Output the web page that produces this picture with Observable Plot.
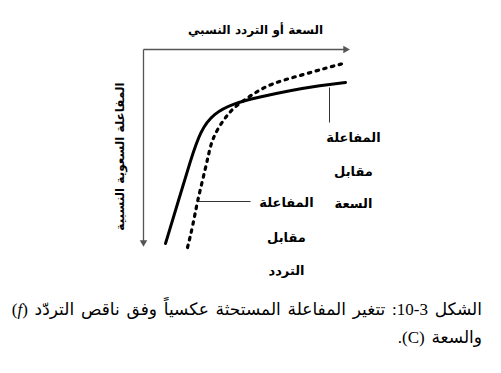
<!DOCTYPE html>
<html lang="ar">
<head>
<meta charset="utf-8">
<script src="https://cdn.jsdelivr.net/npm/d3@7"></script>
<script src="https://cdn.jsdelivr.net/npm/@observablehq/plot@0.6"></script>
<style>
  html, body { margin: 0; padding: 0; background: #fff; }
  #chart { width: 501px; }
  #caption {
    direction: rtl; text-align: right;
    font-family: "Liberation Serif", "DejaVu Sans", serif;
    font-size: 17px; line-height: 28px; word-spacing: 2.5px;
    padding-right: 19px; margin-top: 6px; color: #000;
  }
</style>
</head>
<body>
<div id="chart"></div>
<div id="caption"></div>
<script>
// Curve readings (x: relative capacitance/frequency, y: relative reactance, measured downward)
const solidX  = [22, 35, 47, 57, 70, 90, 114, 147, 177, 202];
const solidY  = [194, 151, 111, 81, 64, 54, 48, 41, 36, 33];
const dottedX = [44, 49, 54, 62, 67, 70, 75, 82, 89, 107, 127, 157, 184, 200];
const dottedY = [198, 178, 151, 119, 96, 88, 78, 68, 59, 46, 34, 26, 18, 14];

// Axis ends
const axisXEnd = 205;
const axisYEnd = 196;

// Annotation texts
const xTitle = "السعة أو التردد النسبي";
const yTitle = "المفاعلة السعوية النسبية";
const capLabelLines = ["المفاعلة", "مقابل", "السعة"];
const freqLabelLines = ["المفاعلة", "مقابل", "التردد"];
const capLabelX = 210, capLabelY = [88, 122, 154];
const freqLabelX = 143, freqLabelY = [153, 188, 221];
const capPointer = {x1: 186, y1: 38, x2: 186, y2: 73};
const freqPointer = {x1: 55, y1: 152, x2: 107, y2: 152};

const captionLine1 = "الشكل 3-10: تتغير المفاعلة المستحثة عكسياً وفق ناقص التردّد (<i>f</i>)";
const captionLine2 = "والسعة (C).";

const solid = solidX.map((x, i) => ({x, y: solidY[i]}));
const dotted = dottedX.map((x, i) => ({x, y: dottedY[i]}));
const capLabels = capLabelLines.map((t, i) => ({t, x: capLabelX, y: capLabelY[i]}));
const freqLabels = freqLabelLines.map((t, i) => ({t, x: freqLabelX, y: freqLabelY[i]}));

const axisColor = "#555";
const arabicFont = "DejaVu Sans, sans-serif";

const plot = Plot.plot({
  width: 501,
  height: 290,
  marginLeft: 143,
  marginRight: 501 - 348,
  marginTop: 49,
  marginBottom: 45,
  x: {domain: [0, axisXEnd], axis: null},
  y: {domain: [0, axisYEnd], reverse: true, axis: null},
  style: {background: "#fff", overflow: "visible"},
  marks: [
    // axes
    Plot.link([{x1: 0, y1: 0, x2: axisXEnd - 4, y2: 0}], {x1: "x1", y1: "y1", x2: "x2", y2: "y2", stroke: axisColor, strokeWidth: 1.3}),
    Plot.link([{x1: 0, y1: 0, x2: 0, y2: axisYEnd - 4}], {x1: "x1", y1: "y1", x2: "x2", y2: "y2", stroke: axisColor, strokeWidth: 1.3}),
    Plot.dot([{x: axisXEnd - 3, y: 0}], {x: "x", y: "y", symbol: "triangle2", r: 3.6, rotate: 90, fill: axisColor}),
    Plot.dot([{x: 0, y: axisYEnd - 3}], {x: "x", y: "y", symbol: "triangle2", r: 3.6, rotate: 180, fill: axisColor}),
    // curves
    Plot.line(solid, {x: "x", y: "y", curve: "basis", stroke: "#000", strokeWidth: 3}),
    Plot.line(dotted, {x: "x", y: "y", curve: "basis", stroke: "#000", strokeWidth: 3.2, strokeDasharray: "2.5,5.5"}),
    // pointers
    Plot.link([capPointer, freqPointer], {x1: "x1", y1: "y1", x2: "x2", y2: "y2", stroke: "#333", strokeWidth: 1}),
    // labels
    Plot.text(capLabels, {x: "x", y: "y", text: "t", fontSize: 13, fontWeight: "bold", fontFamily: arabicFont, fill: "#000"}),
    Plot.text(freqLabels, {x: "x", y: "y", text: "t", fontSize: 13, fontWeight: "bold", fontFamily: arabicFont, fill: "#000"}),
    Plot.text([xTitle], {x: () => 112, y: () => -19, text: d => d, fontSize: 12, fontWeight: "bold", fontFamily: arabicFont, fill: "#000"}),
    Plot.text([yTitle], {x: () => -23, y: () => 107, text: d => d, rotate: -90, fontSize: 12, fontWeight: "bold", fontFamily: arabicFont, fill: "#000"})
  ]
});
document.getElementById("chart").appendChild(plot);
document.getElementById("caption").innerHTML = captionLine1 + "<br>" + captionLine2;
</script>
</body>
</html>
